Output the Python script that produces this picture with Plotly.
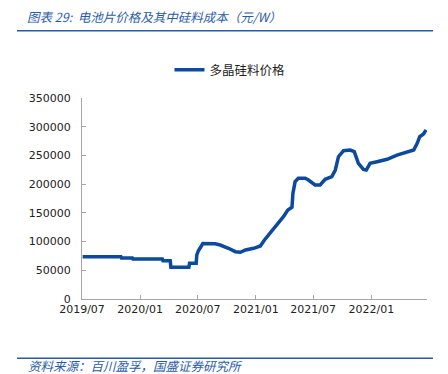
import plotly.graph_objects as go

title_text = "图表 29:  电池片价格及其中硅料成本（元/W）"
source_text = "资料来源：百川盈孚，国盛证券研究所"
series_name = "多晶硅料价格"

dates = [
    "2019-07-03", "2019-11-01", "2019-11-03", "2019-12-07", "2019-12-09",
    "2020-03-11", "2020-03-13", "2020-04-05", "2020-04-07", "2020-06-03",
    "2020-06-05", "2020-06-26", "2020-06-28", "2020-07-03", "2020-07-10",
    "2020-07-17", "2020-08-25", "2020-09-10", "2020-10-06", "2020-10-28",
    "2020-11-13", "2020-11-29", "2020-12-25", "2021-01-15", "2021-01-28",
    "2021-02-10", "2021-02-26", "2021-03-14", "2021-03-29", "2021-04-12",
    "2021-04-25", "2021-04-28", "2021-05-05", "2021-05-15", "2021-06-06",
    "2021-06-16", "2021-07-07", "2021-07-23", "2021-08-08", "2021-08-29",
    "2021-09-09", "2021-09-19", "2021-10-05", "2021-10-26", "2021-11-08",
    "2021-11-21", "2021-12-07", "2021-12-16", "2021-12-28", "2022-01-19",
    "2022-02-20", "2022-03-23", "2022-04-24", "2022-05-15", "2022-05-26",
    "2022-06-03", "2022-06-15", "2022-06-23",
]
prices = [
    73700, 73700, 71400, 71400, 69650,
    69650, 66750, 66750, 55150, 55150,
    62100, 62100, 76600, 84100, 90000,
    96500, 96000, 94000, 88300, 82400,
    81300, 85300, 88300, 92300, 102700,
    111400, 121400, 131800, 143300, 155000,
    159700, 184000, 204300, 210200, 210200,
    207200, 198500, 198500, 208400, 213000,
    224600, 247800, 258200, 259400, 256500,
    236300, 225800, 224600, 236300, 239100,
    243300, 250700, 256500, 259400, 271100,
    282600, 287300, 294300,
]

y_range = [0, 350000]
y_step = 50000
x_range = ["2019-07-01", "2022-06-26"]

blue = "#0B4A9E"
title_blue = "#2A5BA8"
axis_grey = "#A6A6A6"
font_fam = "DejaVu Sans"
cjk_fam = "Noto Sans CJK SC"

# page body has an 8px margin; work in figure coordinates
OFF = 8
W, H = 448 - OFF, 374 - OFF
L, R, T, B = 82 - OFF, 427 - OFF, 98 - OFF, 299 - OFF
PW, PH = R - L, B - T

fig = go.Figure()
fig.add_trace(go.Scatter(
    x=dates, y=prices, mode="lines", name=series_name,
    line=dict(color=blue, width=3.5),
))

fig.update_layout(
    width=W, height=H,
    margin=dict(l=L, r=W - R, t=T, b=H - B, autoexpand=False),
    paper_bgcolor="white", plot_bgcolor="white",
    showlegend=True,
    legend=dict(
        orientation="h", x=(230 - OFF - L) / PW, xanchor="center",
        y=1 + (T - (70 - OFF)) / PH, yanchor="middle",
        font=dict(family=cjk_fam, size=12.5, color="#222222"),
        itemwidth=30,
    ),
    xaxis=dict(
        type="date", range=x_range, tick0="2019-07-01", dtick="M6",
        tickformat="%Y/%m", showgrid=False, zeroline=False, automargin=False,
        showline=True, linecolor=axis_grey, linewidth=1,
        ticks="inside", ticklen=4, tickcolor=axis_grey,
        tickfont=dict(family=font_fam, size=11, color="#222222"),
    ),
    yaxis=dict(
        range=y_range, dtick=y_step, tick0=0, tickformat="d",
        showgrid=False, zeroline=False, automargin=False,
        showline=True, linecolor=axis_grey, linewidth=1,
        ticks="inside", ticklen=4, tickcolor=axis_grey, ticklabelstandoff=8,
        tickfont=dict(family=font_fam, size=11, color="#222222"),
    ),
)

fig.add_annotation(
    text="<i>" + title_text + "</i>", xref="paper", yref="paper",
    x=(26 - OFF - L) / PW, y=1 + (T - (16 - OFF)) / PH,
    xanchor="left", yanchor="middle", borderpad=0,
    showarrow=False, font=dict(family=cjk_fam, size=12.5, color=title_blue),
)
fig.add_annotation(
    text="<i>" + source_text + "</i>", xref="paper", yref="paper",
    x=(27 - OFF - L) / PW, y=-((365 - OFF) - B) / PH,
    xanchor="left", yanchor="middle", borderpad=0,
    showarrow=False, font=dict(family=cjk_fam, size=12.5, color=title_blue),
)
for yy in (30.7, 358.3):
    fig.add_shape(
        type="line", xref="paper", yref="paper",
        x0=(17 - OFF - L) / PW, x1=(433 - OFF - L) / PW,
        y0=(B - (yy - OFF)) / PH, y1=(B - (yy - OFF)) / PH,
        line=dict(color=title_blue, width=1.6),
    )

fig.write_html("out.html")
